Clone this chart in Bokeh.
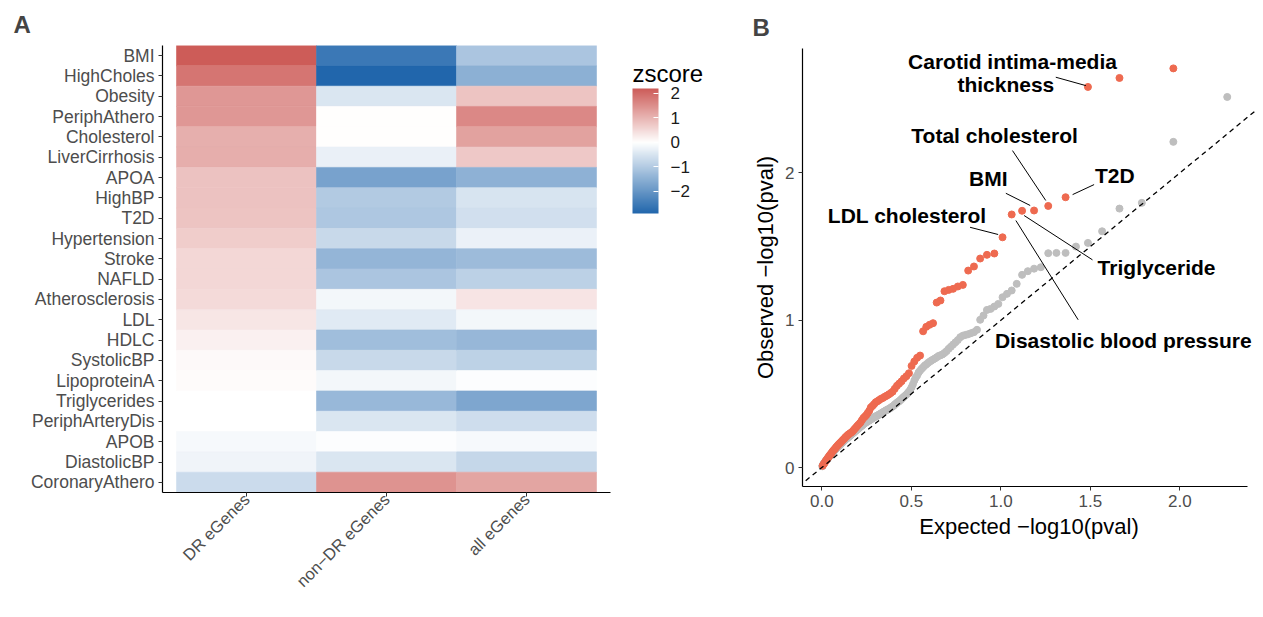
import math
import numpy as np
from bokeh.plotting import figure
from bokeh.layouts import row
from bokeh.models import (FactorRange, Range1d, LinearColorMapper, ColorBar, FixedTicker,
                          CustomJSTickFormatter, ColumnDataSource, Label, Slope)
from bokeh.transform import transform
from bokeh.embed import file_html
from bokeh.resources import INLINE

# ---------------- data: panel A (heatmap) ----------------
traits = ["BMI", "HighCholes", "Obesity", "PeriphAthero", "Cholesterol", "LiverCirrhosis",
          "APOA", "HighBP", "T2D", "Hypertension", "Stroke", "NAFLD", "Atherosclerosis",
          "LDL", "HDLC", "SystolicBP", "LipoproteinA", "Triglycerides", "PeriphArteryDis",
          "APOB", "DiastolicBP", "CoronaryAthero"]
groups = ["DR eGenes", "non\u2212DR eGenes", "all eGenes"]
z_dr = [2.2, 1.86, 1.39, 1.39, 1.07, 1.09, 0.81, 0.81, 0.80, 0.67, 0.53, 0.53, 0.50,
        0.34, 0.20, 0.07, 0.05, 0.0, 0.0, -0.12, -0.2, -0.67]
z_nondr = [-2.55, -2.9, -0.47, 0.02, 0.02, -0.29, -1.76, -1.0, -1.06, -0.72, -1.4, -1.1, -0.17,
           -0.4, -1.24, -0.72, -0.17, -1.33, -0.48, -0.05, -0.47, 1.46]
z_all = [-1.1, -1.49, 0.8, 1.6, 1.25, 0.73, -1.48, -0.52, -0.59, -0.27, -1.27, -0.88, 0.36,
         -0.16, -1.36, -0.86, -0.05, -1.67, -0.63, -0.13, -0.76, 1.21]
cbar_ticks = [-2, -1, 0, 1, 2]

# ---------------- data: panel B (QQ plot, observed -log10 p, sorted) ----------------
obs_dr = [2.71, 2.645, 2.584, 1.835, 1.776, 1.745, 1.743, 1.718, 1.563, 1.453,
          1.444, 1.419, 1.365, 1.337, 1.24, 1.229, 1.213, 1.206, 1.197, 1.134,
          1.12, .98, .969, .955, .925, .76, .745, .72, .69, .64,
          .62, .605, .585, .57, .555, .535, .515, .505, .495, .487,
          .48, .472, .466, .458, .45, .443, .43, .418, .408, .385,
          .37, .355, .345, .335, .32, .305, .295, .285, .275, .265,
          .255, .245, .238, .232, .226, .22, .212, .205, .196, .188,
          .18, .172, .165, .158, .15, .142, .134, .125, .118, .11,
          .10, .092, .084, .075, .066, .057, .048, .04, .03, .022, .012]
obs_all = [2.516, 2.211, 1.797, 1.758, 1.604, 1.525, 1.50, 1.457, 1.457, 1.455,
           1.36, 1.35, 1.333, 1.308, 1.247, 1.202, 1.179, 1.156, 1.111, 1.093,
           1.077, 1.07, 1.032, 1.003, .935, .919, .912, .905, .90, .895,
           .885, .865, .85, .835, .82, .806, .79, .778, .768, .762,
           .757, .748, .74, .733, .726, .718, .71, .70, .692, .68,
           .67, .658, .645, .625, .61, .59, .565, .545, .528, .515,
           .505, .495, .488, .48, .473, .465, .458, .45, .445, .44,
           .433, .428, .42, .415, .41, .405, .40, .397, .393, .39,
           .386, .382, .378, .375, .37, .367, .363, .36, .356, .352,
           .35, .347, .344, .341, .337, .334, .33, .327, .323, .32,
           .317, .313, .31, .307, .304, .30, .297, .293, .288, .284,
           .28, .277, .273, .268, .264, .26, .257, .253, .25, .246,
           .242, .238, .235, .231, .228, .224, .22, .217, .213, .21,
           .206, .203, .199, .196, .193, .19, .186, .183, .179, .175,
           .171, .167, .164, .16, .156, .152, .149, .146, .143, .14,
           .136, .133, .13, .126, .122, .119, .115, .111, .107, .104,
           .10, .096, .092, .088, .084, .08, .076, .072, .068, .064,
           .06, .056, .052, .048, .044, .04, .036, .032, .028, .024,
           .019, .014, .008]
x_ticks_b = [0.0, 0.5, 1.0, 1.5, 2.0]
y_ticks_b = [0, 1, 2]

FONT = "Liberation Sans"
GREY30 = "#4D4D4D"
DR_COLOR = "#EE6A50"
ALL_COLOR = "#BEBEBE"

# ---------------- colour scale ----------------
all_z = z_dr + z_nondr + z_all
zmin, zmax = min(all_z), max(all_z)
BLUE = np.array([33, 102, 172]); WHITE = np.array([255, 255, 255]); RED = np.array([205, 92, 88])
palette = []
for v in np.linspace(zmin, zmax, 256):
    c = WHITE + (v / zmin) * (BLUE - WHITE) if v < 0 else WHITE + (v / zmax) * (RED - WHITE)
    palette.append("#%02x%02x%02x" % tuple(int(round(t)) for t in c))
mapper = LinearColorMapper(palette=palette, low=zmin, high=zmax)

# ---------------- panel A ----------------
xs, ys, zs = [], [], []
for j, col in enumerate([z_dr, z_nondr, z_all]):
    for t, z in zip(traits, col):
        xs.append(j + 1); ys.append(t); zs.append(z)
srcA = ColumnDataSource(dict(x=xs, y=ys, z=zs))

H = 616

# heat-map area spans x in [0.4, 3.6]; frame is widened so the legend sits inside it
XA0, XA1 = 0.4, 3.6
pA = figure(width=748, height=H, x_range=Range1d(XA0, XA0 + 578 / 140.0),
            y_range=FactorRange(factors=traits[::-1]),
            output_backend="svg", toolbar_location=None,
            min_border_left=162, min_border_right=8, min_border_top=45, min_border_bottom=124)
pA.frame_align = False
pA.rect(x="x", y="y", width=1, height=1, source=srcA,
        fill_color=transform("z", mapper), line_color=transform("z", mapper), line_width=0.6)

pA.xaxis.ticker = FixedTicker(ticks=[1, 2, 3])
pA.xaxis.formatter = CustomJSTickFormatter(args=dict(labels=groups),
                                           code="return labels[Math.round(tick) - 1];")
pA.xaxis.major_label_orientation = math.pi / 4
pA.xaxis.bounds = (XA0, XA1)
for ax in [pA.xaxis[0], pA.yaxis[0]]:
    ax.axis_line_color = "black"
    ax.axis_line_width = 1.2
    ax.major_tick_line_color = "#333333"
    ax.major_tick_out = 4
    ax.major_tick_in = 0
    ax.minor_tick_line_color = None
    ax.major_label_text_font = FONT
    ax.major_label_text_font_size = "17.5px"
    ax.major_label_text_color = GREY30
    ax.major_label_standoff = 4
pA.xaxis.major_label_text_font_size = "16.5px"
pA.xaxis.major_label_standoff = 0
pA.grid.visible = False
pA.outline_line_color = None
pA.title.text = "A"
pA.title.text_font = FONT
pA.title.text_font_size = "24px"
pA.title.text_font_style = "bold"
pA.title.align = "left"
pA.title.offset = -149
pA.title.standoff = 16

cbar = ColorBar(color_mapper=mapper, location=(470, 279), width=26, height=125,
                ticker=FixedTicker(ticks=cbar_ticks),
                formatter=CustomJSTickFormatter(code="return tick < 0 ? '\u2212' + Math.abs(tick) : tick.toString();"),
                major_label_text_font=FONT, major_label_text_font_size="17px",
                major_label_text_color="#1A1A1A", label_standoff=12,
                major_tick_line_color="white", major_tick_in=5, major_tick_out=0,
                bar_line_color=None, border_line_color=None, background_fill_alpha=0, padding=0)
pA.add_layout(cbar)
pA.add_layout(Label(x=3.757, y=20.62, text="zscore", text_align="left", text_baseline="alphabetic",
                    text_font=FONT, text_font_size="24px", text_color="black"))

# ---------------- panel B ----------------
n_dr, n_all = len(obs_dr), len(obs_all)
exp_dr = [-math.log10(i / (n_dr + 1)) for i in range(1, n_dr + 1)]
exp_all = [-math.log10(i / (n_all + 1)) for i in range(1, n_all + 1)]

XB0, XB1 = -0.108, 2.378      # visible axis extent (x)
pB = figure(width=507, height=H, x_range=Range1d(XB0, XB1 + 8 / 179.0),
            y_range=Range1d(-0.129, 2.845),
            output_backend="svg", toolbar_location=None,
            min_border_left=54, min_border_right=0, min_border_top=48, min_border_bottom=130)
pB.frame_align = False
pB.add_layout(Slope(gradient=1, y_intercept=0, line_color="black", line_dash="5 4", line_width=1.3))
pB.scatter(exp_all, obs_all, size=7, color=ALL_COLOR)
pB.scatter(exp_dr, obs_dr, size=7, color=DR_COLOR)

labels = [
    ("Carotid intima-media", 1.065, 2.758, None),
    ("thickness", 1.028, 2.599, (1.307, 2.65, 1.475, 2.593)),
    ("Total cholesterol", 0.965, 2.254, (1.065, 2.152, 1.251, 1.813)),
    ("BMI", 0.930, 1.962, (1.028, 1.862, 1.164, 1.779)),
    ("T2D", 1.637, 1.982, (1.521, 1.921, 1.401, 1.853)),
    ("LDL cholesterol", 0.477, 1.713, (0.828, 1.631, 0.985, 1.582)),
    ("Triglyceride", 1.870, 1.358, (1.512, 1.41, 1.130, 1.711)),
    ("Disastolic blood pressure", 1.684, 0.859, (1.432, 1.003, 1.084, 1.677)),
]
seg = dict(x0=[], y0=[], x1=[], y1=[])
for txt, lx, ly, line in labels:
    pB.add_layout(Label(x=lx, y=ly, text=txt, text_align="center", text_baseline="middle",
                        text_font=FONT, text_font_size="21px", text_font_style="bold",
                        text_color="black"))
    if line:
        seg["x0"].append(line[0]); seg["y0"].append(line[1])
        seg["x1"].append(line[2]); seg["y1"].append(line[3])
pB.segment(x0="x0", y0="y0", x1="x1", y1="y1", source=ColumnDataSource(seg),
           line_color="black", line_width=1)

pB.xaxis.ticker = FixedTicker(ticks=x_ticks_b)
pB.xaxis.formatter = CustomJSTickFormatter(code="return tick.toFixed(1);")
pB.xaxis.bounds = (XB0, XB1)
pB.yaxis.ticker = FixedTicker(ticks=y_ticks_b)
pB.xaxis.axis_label = "Expected \u2212log10(pval)"
pB.yaxis.axis_label = "Observed \u2212log10(pval)"
for ax in [pB.xaxis[0], pB.yaxis[0]]:
    ax.axis_line_color = "black"
    ax.axis_line_width = 1.2
    ax.major_tick_line_color = "#333333"
    ax.major_tick_out = 4
    ax.major_tick_in = 0
    ax.minor_tick_line_color = None
    ax.major_label_text_font = FONT
    ax.major_label_text_font_size = "17px"
    ax.major_label_text_color = GREY30
    ax.major_label_standoff = 4
    ax.axis_label_text_font = FONT
    ax.axis_label_text_font_size = "22px"
    ax.axis_label_text_font_style = "normal"
    ax.axis_label_text_color = "black"
    ax.axis_label_standoff = 4
pB.grid.visible = False
pB.outline_line_color = None
pB.title.text = "B"
pB.title.text_font = FONT
pB.title.text_font_size = "24px"
pB.title.text_font_style = "bold"
pB.title.align = "left"
pB.title.offset = -50
pB.title.standoff = 16

layout = row(pA, pB)
open("out.html", "w").write(file_html(layout, INLINE))
